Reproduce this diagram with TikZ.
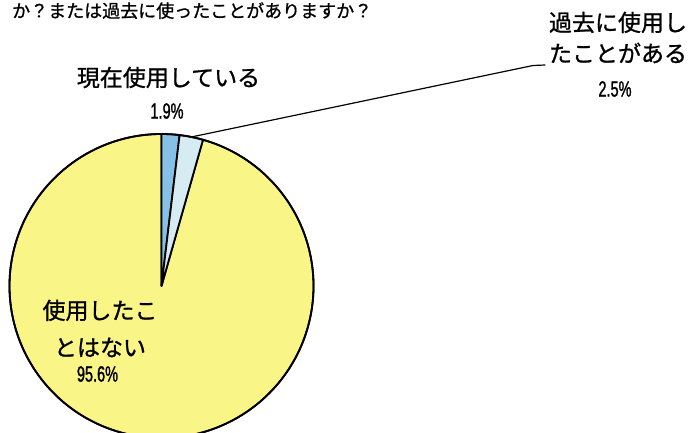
\documentclass[tikz,border=0pt]{standalone}
\usepackage{fontspec}
\setmainfont{Noto Sans CJK JP}[FakeBold=1]
\newfontfamily\numfont[FakeStretch=0.66,FakeBold=1.2]{Liberation Sans}
\usepackage{tikz}
\usetikzlibrary{positioning,calc}
\definecolor{pieyellow}{RGB}{250,245,135}
\definecolor{pieblue}{RGB}{135,192,230}
\definecolor{pielight}{RGB}{214,236,242}
\tikzset{
  jplabel/.style={inner sep=0pt,align=center,font=\fontsize{23}{31}\selectfont},
  pctlabel/.style={inner sep=0pt,font=\fontsize{22}{24}\selectfont\numfont},
}

\begin{document}
\begin{tikzpicture}[line cap=round,line join=round,x=1pt,y=1pt]
\clip (0,0) rectangle (694,432);
\fill[white] (0,0) rectangle (694,432);
\node[anchor=base west,inner sep=0pt,font=\fontsize{18}{20}\selectfont] (question) at (12,414.5) {か？または過去に使ったことがありますか？};
\coordinate (ctr) at (161.5,146);
\foreach \a/\b/\c in {74.16/-270/pieyellow,90/83.16/pieblue,83.16/74.16/pielight}
\filldraw[fill=\c,line width=1.8pt] (ctr) -- ++(\a:152) arc (\a:\b:152) -- cycle;
\draw[line width=1.8pt] (ctr) circle (152);
\coordinate (used) at ($(ctr)+(78.66:152)$);
\node[jplabel] (now) at (168.5,354.5) {現在使用している};
\node[pctlabel] (nowpct) at (167,321) {1.9\%};
\node[jplabel] (past) at (618,394.5) {過去に使用し\\たことがある};
\node[pctlabel] (pastpct) at (615,343) {2.5\%};
\node[jplabel,font=\fontsize{23}{37}\selectfont] (never) at (100,103.5) {使用したこ\\とはない};
\node[pctlabel] (neverpct) at (97.5,58) {95.6\%};
\coordinate (lead) at (545,367);
\draw[line width=1.2pt] (used) -- (533,366.5) -- (lead);
\end{tikzpicture}
\end{document}
